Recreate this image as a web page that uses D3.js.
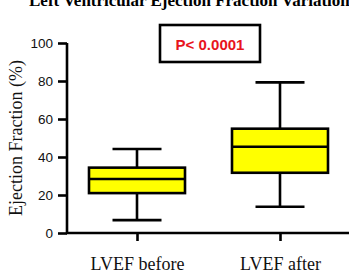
<!DOCTYPE html>
<html>
<head>
<meta charset="utf-8">
<script src="https://cdn.jsdelivr.net/npm/d3@7"></script>
<style>
  body { margin: 0; background: #fff; }
  svg { display: block; }
</style>
</head>
<body>
<div class="container"></div>
<script>
// box plot data
var groups = ['LVEF before', 'LVEF after'];
var mins = [6.8, 13.8];
var q1s = [21, 31.7];
var medians = [28.4, 45.4];
var q3s = [34.4, 54.9];
var maxs = [44.2, 79.3];
var yTicks = [0, 20, 40, 60, 80, 100];

var W = 349, H = 275;

var svg = d3.select('.container').append('svg')
  .attr('width', W)
  .attr('height', H);

var y = d3.scaleLinear().domain([0, 100]).range([233, 43]);
var x = d3.scalePoint().domain(groups).range([137, 280]);

var boxes = groups.map(function(g, i) {
  return {name: g, min: mins[i], q1: q1s[i], med: medians[i], q3: q3s[i], max: maxs[i]};
});

// title (cut off at the top in the original)
svg.append('text')
  .attr('x', 29).attr('y', 6)
  .attr('font-family', 'Liberation Serif, Times New Roman, serif')
  .attr('font-weight', 'bold')
  .attr('font-size', 17)
  .text('Left Ventricular Ejection Fraction Variation');

// y axis
var yAxis = svg.append('g')
  .attr('transform', 'translate(67,0)')
  .call(d3.axisLeft(y).tickValues(yTicks).tickSize(9).tickPadding(5));
yAxis.select('.domain').attr('stroke-width', 2.6).attr('d', 'M0,43V233');
yAxis.selectAll('.tick line').attr('stroke-width', 2.6);
yAxis.selectAll('.tick text')
  .attr('font-family', 'Liberation Sans, Arial, sans-serif')
  .attr('font-size', 13.5)
  .attr('fill', '#111');

// x axis
var xAxis = svg.append('g')
  .attr('transform', 'translate(0,233)')
  .call(d3.axisBottom(x).tickSize(8).tickPadding(16));
xAxis.select('.domain').attr('stroke-width', 2.6).attr('d', 'M66,0H349');
xAxis.selectAll('.tick line').attr('stroke-width', 2.6);
xAxis.selectAll('.tick text')
  .attr('font-family', 'Liberation Serif, Times New Roman, serif')
  .attr('font-size', 18)
  .attr('fill', '#111');

// y axis title
svg.append('text')
  .attr('transform', 'translate(22,138) rotate(-90)')
  .attr('text-anchor', 'middle')
  .attr('font-family', 'Liberation Serif, Times New Roman, serif')
  .attr('font-size', 18)
  .attr('fill', '#111')
  .text('Ejection Fraction (%)');

var boxW = 96, capW = 49;

var b = svg.selectAll('g.box')
  .data(boxes)
  .enter()
  .append('g')
  .attr('class', 'box')
  .attr('stroke', '#000')
  .attr('stroke-width', 2.6);

// whiskers
b.append('line')
  .attr('x1', function(d){return x(d.name)})
  .attr('x2', function(d){return x(d.name)})
  .attr('y1', function(d){return y(d.max)})
  .attr('y2', function(d){return y(d.q3)});
b.append('line')
  .attr('x1', function(d){return x(d.name)})
  .attr('x2', function(d){return x(d.name)})
  .attr('y1', function(d){return y(d.q1)})
  .attr('y2', function(d){return y(d.min)});
b.append('line')
  .attr('x1', function(d){return x(d.name) - capW/2})
  .attr('x2', function(d){return x(d.name) + capW/2})
  .attr('y1', function(d){return y(d.max)})
  .attr('y2', function(d){return y(d.max)});
b.append('line')
  .attr('x1', function(d){return x(d.name) - capW/2})
  .attr('x2', function(d){return x(d.name) + capW/2})
  .attr('y1', function(d){return y(d.min)})
  .attr('y2', function(d){return y(d.min)});

// box
b.append('rect')
  .attr('x', function(d){return x(d.name) - boxW/2})
  .attr('width', boxW)
  .attr('y', function(d){return y(d.q3)})
  .attr('height', function(d){return y(d.q1) - y(d.q3)})
  .attr('fill', '#ffff00');

// median
b.append('line')
  .attr('x1', function(d){return x(d.name) - boxW/2})
  .attr('x2', function(d){return x(d.name) + boxW/2})
  .attr('y1', function(d){return y(d.med)})
  .attr('y2', function(d){return y(d.med)});

// p value box
svg.append('rect')
  .attr('x', 160).attr('y', 25)
  .attr('width', 100).attr('height', 37)
  .attr('fill', '#fff')
  .attr('stroke', '#000')
  .attr('stroke-width', 2.6);
svg.append('text')
  .attr('x', 210).attr('y', 50)
  .attr('text-anchor', 'middle')
  .attr('font-family', 'Liberation Sans, Arial, sans-serif')
  .attr('font-weight', 'bold')
  .attr('font-size', 15)
  .attr('fill', '#e8141c')
  .text('P< 0.0001');
</script>
</body>
</html>
